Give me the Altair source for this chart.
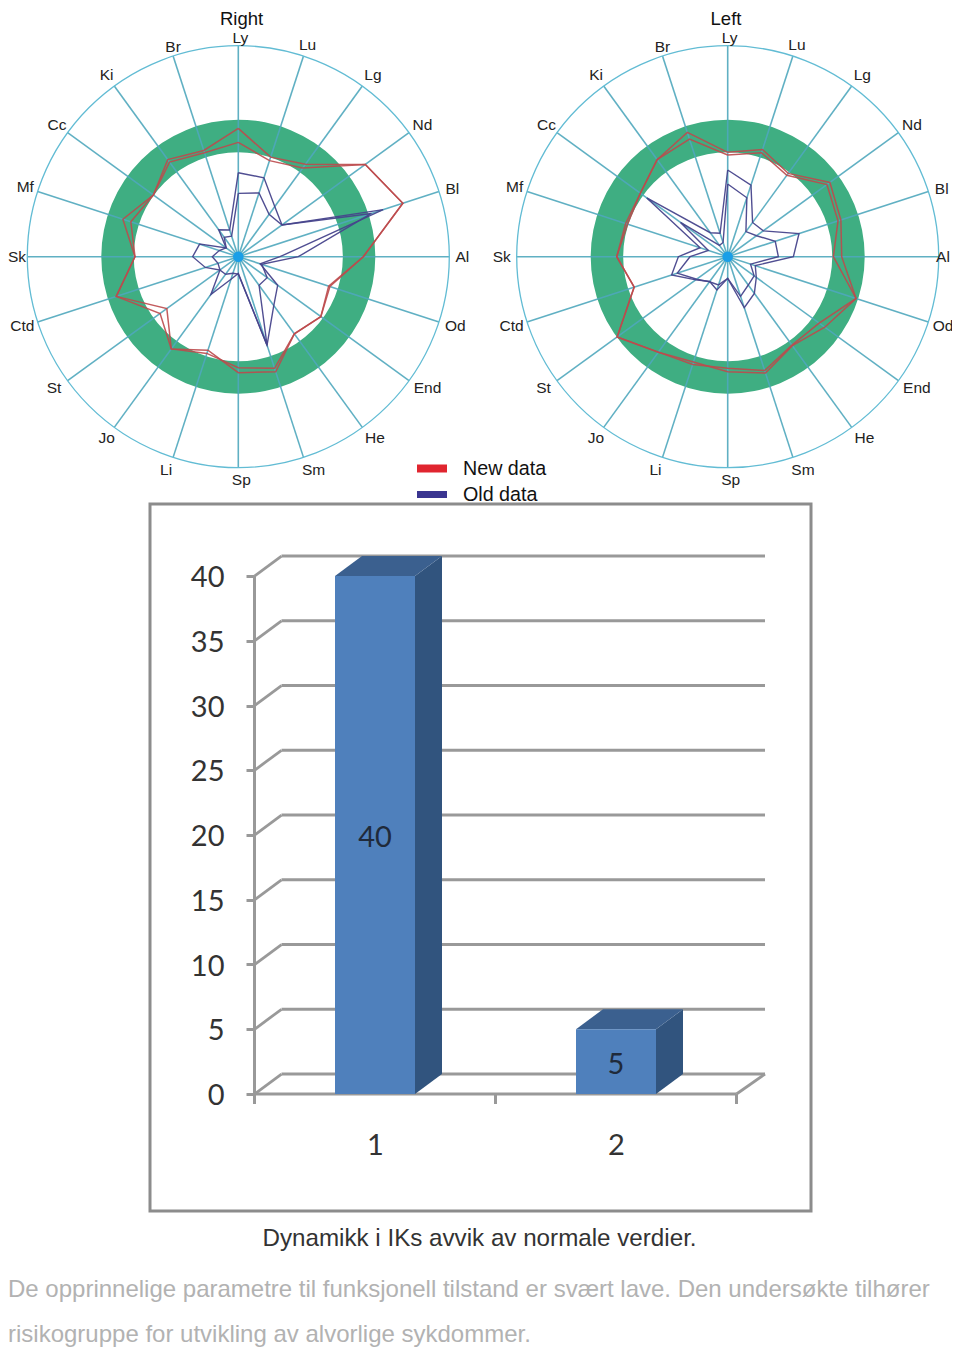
import math
import altair as alt
import pandas as pd

# ---------- data ----------
SPOKES = ["Ly","Lu","Lg","Nd","Bl","Al","Od","End","He","Sm","Sp","Li","Jo","St","Ctd","Sk","Mf","Cc","Ki","Br"]

right_new_a = [385,314,343,471,519,375,289,306,286,363,348,295,342,290,385,310,364,315,360,335]
right_new_b = [343,303,329,471,519,375,285,306,286,352,333,305,342,265,385,310,339,315,351,328]
right_old_a = [252,249,186,162,457,125,69,146,181,279,50,71,140,68,104,137,122,45,100,84]
right_old_b = [190,201,157,162,420,180,74,107,106,279,52,52,65,68,64,78,60,45,72,65]

left_new_a = [313,338,309,379,357,342,405,360,330,367,345,332,354,410,295,333,316,324,360,392]
left_new_b = [305,328,302,368,348,317,405,339,328,359,335,340,354,410,295,333,322,324,360,371]
left_old_a = [260,226,127,132,225,197,87,106,136,161,65,105,92,118,177,148,87,300,89,74]
left_old_b = [218,186,93,107,150,152,72,98,105,125,65,89,93,115,159,113,61,175,42,45]

bar_categories = [1, 2]
bar_values = [40, 5]
y_ticks = [0, 5, 10, 15, 20, 25, 30, 35, 40]
x_ticks = [0.5, 1.5, 2.5]

caption = "Dynamikk i IKs avvik av normale verdier."
body_1 = "De opprinnelige parametre til funksjonell tilstand er svært lave. Den undersøkte tilhører"
body_2 = "risikogruppe for utvikling av alvorlige sykdommer."
legend_names = ["New data", "Old data"]

# ---------- layout ----------
PAGE_LEFT, PAGE_RIGHT, PAGE_TOP, PAGE_BOTTOM = 8, 952, 8, 1347
W, H = PAGE_RIGHT - PAGE_LEFT, PAGE_BOTTOM - PAGE_TOP
CY = 256.7
CENTERS = {"Right": 238.3, "Left": 727.7}
OUTER = 211
UNIT = 1 / 3
LABEL_R = 224
TWEAK_X = {"Ly":2,"Lg":3,"Nd":3,"Bl":1,"Od":4,"End":8,"He":5,"Sm":6,"Sp":3,"Li":-3,"St":-3,"Ctd":-3,"Sk":-2,"Br":4}
TWEAK_Y = {"Ly":5.5,"Br":3,"Lu":1,"Sp":-1,"Bl":2}
FONT = "Liberation Sans"

PX = alt.Scale(domain=[PAGE_LEFT, PAGE_RIGHT], nice=False, zero=False)
PY = alt.Scale(domain=[PAGE_BOTTOM, PAGE_TOP], nice=False, zero=False)
def px(f): return alt.X(f, type="quantitative", scale=PX, axis=None)
def py(f): return alt.Y(f, type="quantitative", scale=PY, axis=None)

def polar(cx, r, i):
    a = math.radians(i * 18)
    return cx + r * math.sin(a), CY - r * math.cos(a)

# ---------- radar tables ----------
spoke_rows, label_rows, line_rows = [], [], []
for side, cx in CENTERS.items():
    for i, name in enumerate(SPOKES):
        x, y = polar(cx, OUTER, i)
        spoke_rows.append({"x": cx, "y": CY, "x2": x, "y2": y})
        lx, ly = polar(cx, LABEL_R, i)
        lx += TWEAK_X.get(name, 0)
        ly += TWEAK_Y.get(name, 0)
        # keep labels inside the drawable page
        half = 4 * len(name) + 1
        lx = min(max(lx, PAGE_LEFT + half), PAGE_RIGHT - half)
        label_rows.append({"x": lx, "y": ly, "t": name})
spokes = pd.DataFrame(spoke_rows)
labels = pd.DataFrame(label_rows)
centers = pd.DataFrame({"x": list(CENTERS.values()), "y": [CY, CY]})

series = [("Right", "new a", right_new_a), ("Right", "new b", right_new_b),
          ("Right", "old a", right_old_a), ("Right", "old b", right_old_b),
          ("Left", "new a", left_new_a), ("Left", "new b", left_new_b),
          ("Left", "old a", left_old_a), ("Left", "old b", left_old_b)]
for side, kind, vals in series:
    for i, v in enumerate(vals + vals[:1]):
        x, y = polar(CENTERS[side], v * UNIT, i)
        line_rows.append({"x": x, "y": y, "k": side + kind, "o": i, "group": kind[:3]})
lines = pd.DataFrame(line_rows)

ring = alt.Chart(centers).mark_arc(radius=137, radius2=104.5, theta=0, theta2=2 * math.pi,
                                   fill="#3fae82", stroke="#3fae82", strokeWidth=0).encode(x=px("x"), y=py("y"))
outer = alt.Chart(centers).mark_arc(radius=OUTER, radius2=OUTER - 0.01, theta=0, theta2=2 * math.pi,
                                    fillOpacity=0, stroke="#62bcd4", strokeWidth=1.3).encode(x=px("x"), y=py("y"))
spoke_layer = alt.Chart(spokes).mark_rule(stroke="#4fa7bd", strokeWidth=1.6, opacity=0.9).encode(
    x=px("x"), y=py("y"), x2="x2", y2="y2")
dot = alt.Chart(centers).mark_point(filled=True, fill="#1a9fe8", size=110, opacity=1).encode(x=px("x"), y=py("y"))

new_lines = alt.Chart(lines[lines.group == "new"]).mark_line(stroke="#bd4a4c", strokeWidth=1.5, opacity=0.9).encode(
    x=px("x"), y=py("y"), detail="k:N", order="o:Q")
old_lines = alt.Chart(lines[lines.group == "old"]).mark_line(stroke="#47448c", strokeWidth=1.4, opacity=0.95).encode(
    x=px("x"), y=py("y"), detail="k:N", order="o:Q")

label_layer = alt.Chart(labels).mark_text(font=FONT, fontSize=15.5, color="#222222").encode(
    x=px("x"), y=py("y"), text="t:N")

titles = pd.DataFrame({"x": [241.5, 726], "y": [19, 19], "t": list(CENTERS.keys())})
title_layer = alt.Chart(titles).mark_text(font=FONT, fontSize=18.5, color="#111111").encode(
    x=px("x"), y=py("y"), text="t:N")

# ---------- legend ----------
leg = pd.DataFrame({"x": [417, 417], "x2": [447, 447], "y": [464.5, 491], "y2": [472.5, 498],
                    "c": ["#e0252f", "#3a3590"], "tx": [463, 463], "ty": [468.5, 494.5], "t": legend_names})
leg_sw = alt.Chart(leg).mark_rect().encode(x=px("x"), x2="x2", y=py("y"), y2="y2",
                                           color=alt.Color("c:N", scale=None))
leg_tx = alt.Chart(leg).mark_text(font=FONT, fontSize=19.7, align="left", color="#111111").encode(
    x=px("tx"), y=py("ty"), text="t:N")

# ---------- frame + captions ----------
frame = alt.Chart(pd.DataFrame({"x": [150], "x2": [811], "y": [504], "y2": [1211]})).mark_rect(
    fillOpacity=0, stroke="#8c8c8c", strokeWidth=3).encode(x=px("x"), x2="x2", y=py("y"), y2="y2")
cap_df = pd.DataFrame({"x": [479.5], "y": [1239], "t": [caption]})
cap_layer = alt.Chart(cap_df).mark_text(font=FONT, fontSize=24.2, color="#333333").encode(x=px("x"), y=py("y"), text="t:N")
body_df = pd.DataFrame({"x": [8, 8], "y": [1289.5, 1335], "t": [body_1, body_2]})
body_layer = alt.Chart(body_df).mark_text(font=FONT, fontSize=24, align="left", color="#b2b2b2").encode(
    x=px("x"), y=py("y"), text="t:N")

page = alt.layer(ring, spoke_layer, outer, dot, new_lines, old_lines, label_layer, title_layer,
                 leg_sw, leg_tx, frame, cap_layer, body_layer)

# ---------- 3-D bar chart on its own value scales ----------
PX_PER_X = 241.0
PX_PER_Y = 12.95
X0_PAGE, Y0_PAGE = 375.0, 1094.0
BX = alt.Scale(domain=[1 + (PAGE_LEFT - X0_PAGE) / PX_PER_X, 1 + (PAGE_RIGHT - X0_PAGE) / PX_PER_X], nice=False, zero=False)
BY = alt.Scale(domain=[(Y0_PAGE - PAGE_BOTTOM) / PX_PER_Y, (Y0_PAGE - PAGE_TOP) / PX_PER_Y], nice=False, zero=False)
DX = 27 / PX_PER_X
DY = 20 / PX_PER_Y
HALF = 40 / PX_PER_X
WALL_EXT = 1.5 / PX_PER_X
GRAY = "#999999"

def bx(f): return alt.X(f, type="quantitative", scale=BX, axis=None)
def by(f): return alt.Y(f, type="quantitative", scale=BY, axis=None)

wall = pd.DataFrame({"x": [x_ticks[0] + DX] * len(y_ticks), "x2": [x_ticks[-1] + DX + WALL_EXT] * len(y_ticks),
                     "y": [v + DY for v in y_ticks]})
wall_layer = alt.Chart(wall).mark_rule(stroke=GRAY, strokeWidth=2.8).encode(x=bx("x"), x2="x2", y=by("y"))
diag_rows = []
for v in y_ticks:
    diag_rows += [{"x": x_ticks[0], "y": v, "k": v, "o": 0}, {"x": x_ticks[0] + DX, "y": v + DY, "k": v, "o": 1}]
diag_rows += [{"x": x_ticks[-1], "y": 0, "k": 99, "o": 0}, {"x": x_ticks[-1] + DX + WALL_EXT, "y": DY, "k": 99, "o": 1}]
diag_layer = alt.Chart(pd.DataFrame(diag_rows)).mark_line(stroke=GRAY, strokeWidth=2.8).encode(
    x=bx("x"), y=by("y"), detail="k:N", order="o:Q")

base_x = alt.Chart(pd.DataFrame({"x": [x_ticks[0]], "x2": [x_ticks[-1]], "y": [0]})).mark_rule(
    stroke=GRAY, strokeWidth=3).encode(x=bx("x"), x2="x2", y=by("y"))
base_y = alt.Chart(pd.DataFrame({"x": [x_ticks[0]], "y": [0], "y2": [y_ticks[-1]]})).mark_rule(
    stroke=GRAY, strokeWidth=3).encode(x=bx("x"), y=by("y"), y2="y2")
tick_df = pd.DataFrame({"x": x_ticks, "y": [0.0] * 3, "y2": [-10 / PX_PER_Y] * 3})
tick_layer = alt.Chart(tick_df).mark_rule(stroke=GRAY, strokeWidth=3).encode(x=bx("x"), y=by("y"), y2="y2")

front_rows, top_rows, side_rows, text_rows = [], [], [], []
for c, v in zip(bar_categories, bar_values):
    a, b = c - HALF, c + HALF
    front_rows.append({"x": a, "x2": b, "y": 0, "y2": v})
    top_rows += [{"y": v, "x": a, "x2": b, "k": c}, {"y": v + DY, "x": a + DX, "x2": b + DX, "k": c}]
    side_rows += [{"x": b, "y": 0, "y2": v, "k": c}, {"x": b + DX, "y": DY, "y2": v + DY, "k": c}]
    text_rows.append({"x": c, "y": v / 2, "t": str(v)})

front = alt.Chart(pd.DataFrame(front_rows)).mark_rect(fill="#4f80bc").encode(x=bx("x"), x2="x2", y=by("y"), y2="y2")
top = alt.Chart(pd.DataFrame(top_rows)).mark_area(orient="horizontal", fill="#3b608f").encode(
    y=by("y"), x=bx("x"), x2="x2", detail="k:N")
side = alt.Chart(pd.DataFrame(side_rows)).mark_area(orient="vertical", fill="#31547e").encode(
    x=bx("x"), y=by("y"), y2="y2", detail="k:N")
bar_text = alt.Chart(pd.DataFrame(text_rows)).mark_text(font="Lato", fontSize=29, dy=3, color="#1f2a3a").encode(
    x=bx("x"), y=by("y"), text="t:N")

axis_carrier = alt.Chart(pd.DataFrame({"x": bar_categories, "y": [0, 0]})).mark_point(opacity=0).encode(
    x=alt.X("x:Q", scale=BX, axis=alt.Axis(
        values=bar_categories, format="d", orient="bottom", offset=Y0_PAGE - PAGE_BOTTOM, domain=False, ticks=False, grid=False,
        labelPadding=37, labelFont="Lato", labelFontSize=29, labelColor="#333333", title=None)),
    y=alt.Y("y:Q", scale=BY, axis=alt.Axis(
        values=y_ticks, format="d", orient="left", offset=-246, domain=False, tickSize=8, tickWidth=3,
        tickColor=GRAY, grid=False, labelPadding=22, labelOffset=1.5, labelFont="Lato", labelFontSize=29,
        labelColor="#333333", title=None)),
)

bars = alt.layer(wall_layer, diag_layer, base_x, base_y, tick_layer, side, top, front, bar_text)

chart = alt.layer(page, bars, axis_carrier).resolve_scale(x="independent", y="independent").properties(
    width=W, height=H, padding=0, autosize=alt.AutoSizeParams(type="none"),
    background="white",
).configure_view(stroke=None)

chart.save("out.html", embed_options={"renderer": "svg", "actions": False})
